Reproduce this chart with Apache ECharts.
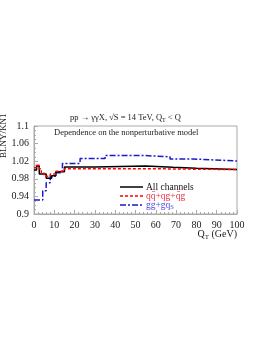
<!DOCTYPE html>
<html><head><meta charset="utf-8">
<script src="https://cdn.jsdelivr.net/npm/echarts@6/dist/echarts.min.js"></script>
<style>html,body{margin:0;padding:0;background:#fff}#c{width:274px;height:354px}</style>
</head><body><div id="c"></div>
<script>
// bin lower edges and values (step histograms), last edge = 100
var blackEdges = [0, 1.3, 2.6, 6, 8.7, 10.8, 15, 30, 55, 68.5, 80, 100];
var blackVals  = [1.000, 1.009, 0.991, 0.981, 0.987, 0.996, 1.007, 1.009, 1.006, 1.004, 1.001];
var redEdges = [0, 1, 2.6, 3.6, 5, 8, 10.5, 15, 55, 100];
var redVals  = [1.005, 1.011, 1.003, 0.993, 0.986, 0.991, 0.997, 1.003, 1.001];
var blueEdges = [0, 4.3, 6, 8, 10.5, 14, 22.7, 35, 54, 67, 78.5, 100];
var blueVals  = [0.932, 0.953, 0.971, 0.986, 0.994, 1.015, 1.026, 1.033, 1.030, 1.025, 1.0205];
var seriesNames = ['All channels', 'qq̄+qg+q̄g', 'gg+gq{s|S}'];
var xTicks = [0, 10, 20, 30, 40, 50, 60, 70, 80, 90, 100];
var yTicks = [0.9, 0.94, 0.98, 1.02, 1.06, 1.1];

function toPts(edges, vals) {
  var d = edges.slice(0, vals.length).map(function (e, i) { return [e, vals[i]]; });
  d.push([edges[edges.length - 1], vals[vals.length - 1]]);
  return d;
}
var F = 'Liberation Serif';
var colors = ['#000000', '#ff0000', '#1a1acc'];
var textColors = ['#111111', '#e8304a', '#4a4ae0'];
var dashes = ['solid', [3, 2], [6, 2, 2, 2]];

var legendGraphics = [];
seriesNames.forEach(function (n, i) {
  var y = 187 + i * 9;
  legendGraphics.push({type: 'line', shape: {x1: 120, y1: y, x2: 143, y2: y},
    style: {stroke: colors[i], lineWidth: 1.5, lineDash: dashes[i] === 'solid' ? null : dashes[i]}});
  legendGraphics.push({type: 'text', x: 146, y: y, style: {text: n, fill: textColors[i], font: '9.5px "Liberation Serif"', verticalAlign: 'middle',
    rich: {s: {fontFamily: F, fontSize: 6.5, fill: textColors[i], padding: [5, 0, 0, 0]}}}});
});

var chart = echarts.init(document.getElementById('c'), null, {renderer: 'canvas'});
chart.setOption({
  animation: false,
  grid: {left: 34, right: 37, top: 126, bottom: 140, show: true, borderColor: '#aaa', borderWidth: 1},
  xAxis: {
    type: 'value', min: xTicks[0], max: xTicks[xTicks.length - 1], interval: 10,
    axisLine: {lineStyle: {color: '#aaa'}},
    axisTick: {inside: true, length: 4, lineStyle: {color: '#aaa'}},
    minorTick: {show: true, splitNumber: 5, length: 2, lineStyle: {color: '#aaa'}},
    splitLine: {show: false},
    axisLabel: {fontFamily: F, fontSize: 10, color: '#222', margin: 6}
  },
  yAxis: {
    type: 'value', min: yTicks[0], max: yTicks[yTicks.length - 1], interval: 0.04,
    axisLine: {lineStyle: {color: '#aaa'}},
    axisTick: {inside: true, length: 4, lineStyle: {color: '#aaa'}},
    minorTick: {show: true, splitNumber: 4, length: 2, lineStyle: {color: '#aaa'}},
    splitLine: {show: false},
    axisLabel: {fontFamily: F, fontSize: 10, color: '#222', margin: 5,
      formatter: function (v) { return String(parseFloat(v.toFixed(2))); }}
  },
  series: [
    {name: seriesNames[0], type: 'line', step: 'end', symbol: 'none', data: toPts(blackEdges, blackVals),
      lineStyle: {color: colors[0], width: 1.5}, z: 3},
    {name: seriesNames[1], type: 'line', step: 'end', symbol: 'none', data: toPts(redEdges, redVals),
      lineStyle: {color: colors[1], width: 1.5, type: dashes[1]}, z: 4},
    {name: seriesNames[2], type: 'line', step: 'end', symbol: 'none', data: toPts(blueEdges, blueVals),
      lineStyle: {color: colors[2], width: 1.5, type: dashes[2]}, z: 2}
  ],
  graphic: legendGraphics.concat([
    {type: 'text', left: 70, top: 113, style: {text: 'pp → γγX, √S = 14 TeV, Q{s|T} < Q', font: '8.5px "Liberation Serif"', fill: '#222',
      rich: {s: {fontSize: 6, fontFamily: F, padding: [5, 0, 0, 0]}}}},
    {type: 'text', left: 54, top: 128, style: {text: 'Dependence on the nonperturbative model', font: '8.5px "Liberation Serif"', fill: '#222'}},
    {type: 'text', right: 37, top: 229, style: {text: 'Q{s|T} (GeV)', font: '10px "Liberation Serif"', fill: '#222',
      rich: {s: {fontSize: 7, fontFamily: F, padding: [6, 0, 0, 0]}}}},
    {type: 'text', x: -1, y: 158, rotation: Math.PI / 2, style: {text: 'BLNY/KN1', font: '9px "Liberation Serif"', fill: '#222'}}
  ])
});
</script></body></html>
